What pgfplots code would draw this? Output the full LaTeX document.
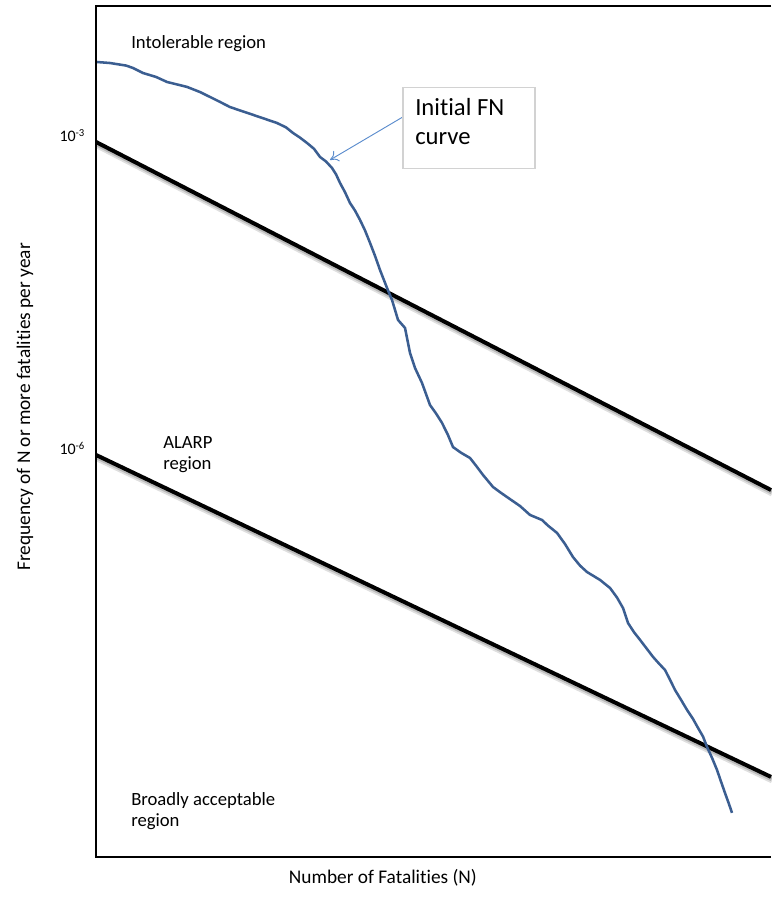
\documentclass[border=0pt]{standalone}
\usepackage{fontspec}
\setmainfont{Carlito}[Ligatures={NoCommon}]
\usepackage{pgfplots}
\pgfplotsset{compat=1.18}
\usetikzlibrary{arrows.meta}
\definecolor{fnblue}{RGB}{59,94,145}
\definecolor{arrowblue}{RGB}{91,140,205}
\begin{document}
\begin{tikzpicture}
\useasboundingbox (-72pt,-36pt) rectangle (506.25pt,642.75pt);
\begin{axis}[
  at={(0,0)}, anchor=south west,
  width=506.25pt, height=638.25pt, scale only axis,
  xmin=0, xmax=675, ymode=log, ymin=1.40e-10, ymax=2.01e-2,
  xtick=\empty, ytick={1e-6,1e-3},
  yticklabels={10\textsuperscript{-6},10\textsuperscript{-3}},
  minor ytick={}, major tick length=0pt, minor tick length=0pt,
  yticklabel style={anchor=base east, inner sep=0pt, font=\fontsize{12}{14}\selectfont, xshift=-8pt},
  axis line style={draw=none},
  clip=false,
]
% shadows of limit lines
\addplot[gray!25, line width=5pt, xshift=1pt, yshift=-2.4pt, forget plot] coordinates {(0,1e-3) (675,4.61e-7)};
\addplot[gray!55, line width=3.5pt, xshift=0.5pt, yshift=-1.5pt, forget plot] coordinates {(0,1e-3) (675,4.61e-7)};
\addplot[gray!25, line width=5pt, xshift=1pt, yshift=-2.4pt, forget plot] coordinates {(0,1e-6) (675,8.2e-10)};
\addplot[gray!55, line width=3.5pt, xshift=0.5pt, yshift=-1.5pt, forget plot] coordinates {(0,1e-6) (675,8.2e-10)};
% limit lines
\addplot[black, line width=3pt] coordinates {(0,1e-3) (675,4.61e-7)};
\addplot[black, line width=3pt] coordinates {(0,1e-6) (675,8.2e-10)};
% FN curve
\addplot[fnblue, line width=1.9pt, line join=round] coordinates {
(0,5.85e-3) (14,5.71e-3) (30,5.40e-3) (37,5.12e-3) (47,4.58e-3) (60,4.20e-3) (71,3.76e-3) (91,3.37e-3)
(104,3.01e-3) (114,2.70e-3) (124,2.42e-3) (134,2.16e-3) (157,1.82e-3) (181,1.52e-3) (190,1.38e-3) (197,1.22e-3)
(204,1.10e-3) (211,9.78e-4) (218,8.60e-4) (224,7.18e-4) (230,6.50e-4) (236,5.63e-4) (240,4.90e-4) (244,4.05e-4)
(249,3.30e-4) (254,2.60e-4) (259,2.20e-4) (264,1.79e-4) (269,1.42e-4)
(274,1.08e-4) (279,8.10e-5) (284,5.93e-5) (291,3.99e-5) (296,3.06e-5) (302,1.97e-5) (309,1.65e-5)
(314,9.50e-6) (319,6.82e-6) (326,4.90e-6) (334,3.01e-6) (340,2.50e-6) (346,2.03e-6) (352,1.55e-6) (357,1.19e-6)
(365,1.05e-6) (374,9.35e-7) (380,7.90e-7) (387,6.43e-7) (397,4.93e-7) (404,4.40e-7) (411,3.95e-7) (418,3.55e-7) (424,3.24e-7) (434,2.66e-7)
(446,2.38e-7) (452,2.10e-7) (461,1.79e-7) (469,1.40e-7) (477,1.05e-7) (484,8.70e-8) (491,7.55e-8) (504,6.34e-8) (514,5.31e-8)
(521,4.30e-8) (527,3.41e-8) (532,2.45e-8) (538,2.00e-8) (544,1.69e-8) (551,1.38e-8) (557,1.16e-8) (563,1.00e-8) (569,8.69e-9) (574,7.00e-9) (579,5.59e-9)
(585,4.50e-9) (591,3.60e-9) (597,2.95e-9) (602,2.42e-9) (607,2.00e-9) (611,1.59e-9) (616,1.25e-9) (621,9.57e-10) (625,7.40e-10) (629,5.75e-10) (633,4.50e-10) (636,3.71e-10)
};
% frame (left, top, bottom)
\draw[black, line width=1.5pt] (rel axis cs:1,1) -- (rel axis cs:0,1) -- (rel axis cs:0,0) -- (rel axis cs:1,0);
% annotation box and arrow
\draw[arrowblue, line width=0.7pt, -{To[length=6pt,width=9pt]}] (axis cs:307,1.74e-3) -- (axis cs:234,6.72e-4);
\draw[gray!35, line width=0.8pt, fill=white] (axis cs:307,3.30e-3) rectangle (axis cs:439,5.51e-4);
\node[anchor=base west, inner sep=0pt, font=\fontsize{18.5}{22}\selectfont] at (axis cs:319,1.78e-3) {Initial FN};
\node[anchor=base west, inner sep=0pt, font=\fontsize{18.5}{22}\selectfont] at (axis cs:319,9.36e-4) {curve};
% region texts
\node[anchor=base west, inner sep=0pt, font=\fontsize{14}{16}\selectfont] at (axis cs:35,7.79e-3) {Intolerable region};
\node[anchor=base west, inner sep=0pt, font=\fontsize{14}{16}\selectfont] at (axis cs:67,1.141e-6) {ALARP};
\node[anchor=base west, inner sep=0pt, font=\fontsize{14}{16}\selectfont] at (axis cs:67,7.18e-7) {region};
\node[anchor=base west, inner sep=0pt, font=\fontsize{14}{16}\selectfont] at (axis cs:35,4.32e-10) {Broadly acceptable};
\node[anchor=base west, inner sep=0pt, font=\fontsize{14}{16}\selectfont] at (axis cs:35,2.72e-10) {region};
% axis labels
\node[xshift=-53.25pt, rotate=90, font=\fontsize{14.5}{16}\selectfont] at (rel axis cs:0,0.5288) {Frequency of N or more fatalities per year};
\node[font=\fontsize{14.5}{16}\selectfont, yshift=-15.75pt] at (rel axis cs:0.425,0) {Number of Fatalities (N)};
\end{axis}
\end{tikzpicture}
\end{document}
